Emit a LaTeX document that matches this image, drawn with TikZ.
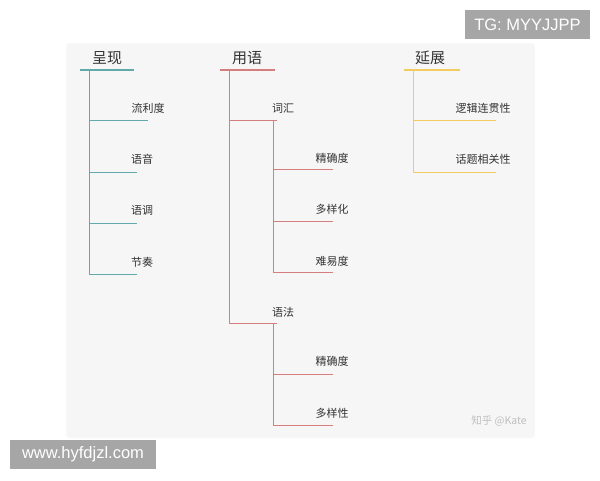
\documentclass[tikz,border=0pt]{standalone}
\usepackage{fontspec}
\setmainfont{Noto Sans CJK SC}
\newfontfamily\latinfont{Liberation Sans}
\usepackage{tikz}
\usetikzlibrary{arrows.meta}
\definecolor{cteal}{HTML}{62A9AC}
\definecolor{cred}{HTML}{D67E7E}
\definecolor{cyellow}{HTML}{F3CB5E}
\definecolor{cpanel}{HTML}{F6F6F6}
\definecolor{cmark}{HTML}{A6A6A6}
\definecolor{ctext}{HTML}{333333}
\tikzset{
  title/.style={inner sep=0pt,text=ctext,font=\fontsize{15}{18}\selectfont},
  leaf/.style={inner sep=0pt,text=ctext,font=\fontsize{11}{13}\selectfont},
  underline/.style={line width=2.4pt},
  branch/.style={line width=0.9pt},
  tag/.style={fill=cmark,text=white,inner sep=0pt,minimum height=29pt,font=\latinfont\fontsize{16.5}{18}\selectfont},
}

\begin{document}
\begin{tikzpicture}[x=1pt,y=-1pt,>=latex,line join=bevel,]
\useasboundingbox (0,0) rectangle (600,480);
%%
\fill [black!3,rounded corners=3pt] (66,43) rectangle (535,438);
\fill [cpanel,rounded corners=3pt] (68,45) rectangle (533,436);
%% titles
\node (node_0) at (107,58) [title] {呈现};
  \node (node_1) at (247,58) [title] {用语};
  \node (node_2) at (430,58) [title] {延展};
%% leaves
\node (node_3) at (148,108) [leaf] {流利度};
  \node (node_4) at (142,159) [leaf] {语音};
  \node (node_5) at (142,210) [leaf] {语调};
  \node (node_6) at (142,262) [leaf] {节奏};
  \node (node_7) at (283,108) [leaf] {词汇};
  \node (node_8) at (332,158) [leaf] {精确度};
  \node (node_9) at (332,209) [leaf] {多样化};
  \node (node_10) at (332,261) [leaf] {难易度};
  \node (node_11) at (283,312) [leaf] {语法};
  \node (node_12) at (332,361) [leaf] {精确度};
  \node (node_13) at (332,413) [leaf] {多样性};
  \node (node_14) at (483,108) [leaf] {逻辑连贯性};
  \node (node_15) at (483,159) [leaf] {话题相关性};
%% tree joints
\coordinate (u_0) at (80,70);
  \coordinate (v_0) at (134,70);
  \coordinate (r_0) at (89,70);
  \coordinate (u_1) at (220,70);
  \coordinate (v_1) at (275,70);
  \coordinate (r_1) at (229,70);
  \coordinate (u_2) at (404,70);
  \coordinate (v_2) at (460,70);
  \coordinate (r_2) at (413,70);
  \coordinate (e_3) at (148,120);
  \coordinate (e_4) at (137,172);
  \coordinate (e_5) at (137,223);
  \coordinate (e_6) at (137,274);
  \coordinate (e_7) at (277,120);
  \coordinate (r_7) at (273,120);
  \coordinate (e_8) at (333,169);
  \coordinate (e_9) at (333,221);
  \coordinate (e_10) at (333,272);
  \coordinate (e_11) at (277,323);
  \coordinate (r_11) at (273,323);
  \coordinate (e_12) at (333,374);
  \coordinate (e_13) at (333,425);
  \coordinate (e_14) at (496,120);
  \coordinate (e_15) at (496,172);
%% lines
\draw [cteal,underline] (u_0) -- (v_0);
  \draw [cred,underline] (u_1) -- (v_1);
  \draw [cyellow,underline] (u_2) -- (v_2);
  \foreach \e in {3,4,5,6} \draw [cteal,branch] (r_0) |- (e_\e);
  \foreach \e in {7,11} \draw [cred,branch] (r_1) |- (e_\e);
  \foreach \e in {8,9,10} \draw [cred,branch] (r_7) |- (e_\e);
  \foreach \e in {12,13} \draw [cred,branch] (r_11) |- (e_\e);
  \foreach \e in {14,15} \draw [cyellow,branch] (r_2) |- (e_\e);
%% marks
\node (node_16) at (499,421) [inner sep=0pt,text=black!25,font=\fontsize{10.5}{12}\selectfont] {知乎 @Kate};
  \node (node_17) at (527.5,24.5) [tag,minimum width=125pt] {TG: MYYJJPP};
  \node (node_18) at (83,454.5) [tag,minimum width=146pt] {www.hyfdjzl.com};
%
\end{tikzpicture}
\end{document}
